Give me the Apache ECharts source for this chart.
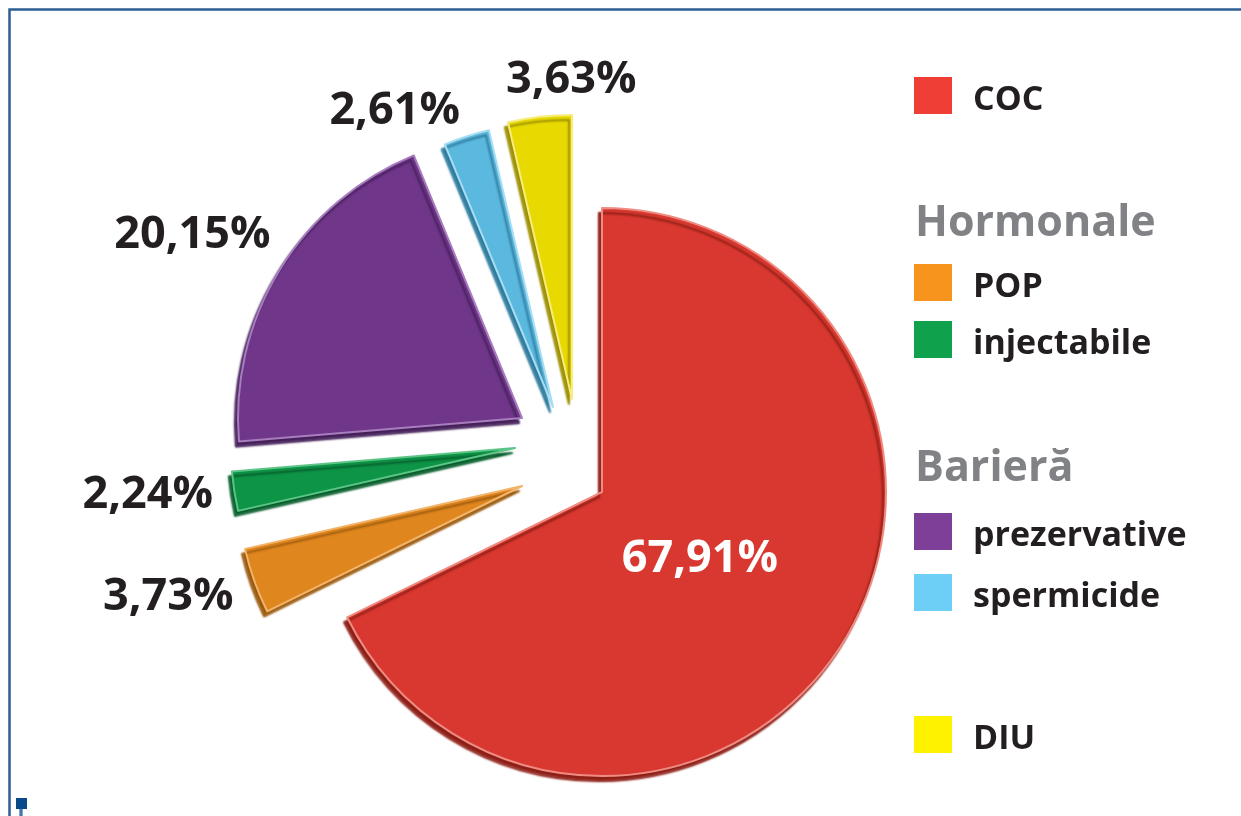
<!DOCTYPE html>
<html>
<head>
<meta charset="utf-8">
<script src="https://cdn.jsdelivr.net/npm/echarts@6/dist/echarts.min.js"></script>
<style>
  html, body { margin: 0; padding: 0; background: #ffffff; }
  #chart { width: 1241px; height: 816px; }
</style>
</head>
<body>
<div id="chart"></div>
<script>
// ---- data ----
const categories = ['COC', 'POP', 'injectabile', 'prezervative', 'spermicide', 'DIU'];
const values = [67.91, 3.73, 2.24, 20.15, 2.61, 3.63];
const groupTitles = ['Hormonale', 'Barieră'];
const legendGroups = [[0], [1, 2], [3, 4], [5]];

// ---- styles / layout ----
const sliceColors  = ['#D8382F', '#E0861E', '#0E9447', '#70368A', '#5BB8DE', '#E8DA00'];
const rimColors    = ['#EE8B82', '#F2B46A', '#5CC486', '#A77DBE', '#A6DDF3', '#F6EC80'];
const shadeColors  = ['#8E1F17', '#9A5A0E', '#075F2C', '#45205A', '#2F7C9E', '#9C8F00'];
const legendColors = ['#EF3E36', '#F7941D', '#0FA14B', '#7E3F98', '#6DCFF6', '#FFF200'];
// explosion: each slice drawn from its own pie centre (tip of the wedge)
const sliceCenters = [[602, 492], [522, 486], [515, 448], [522, 418], [553, 407], [572, 399]];
// label placement via library label-line geometry (line itself hidden)
const labelLen  = [-157, 48.5, 23, 67, 26.7, 37];
const labelLen2 = [-88, -25, -1.5, -48, -1.5, -101];
const legendTops = [77, 264, 513, 716];
const legendGaps = [17, 17, 21, 17];
const FONT = "'Open Sans', 'Noto Sans', sans-serif";

function fmt(v) { return v.toFixed(2).replace('.', ',') + '%'; }

const series = categories.map(function (_, i) {
  return {
    type: 'pie',
    center: sliceCenters[i],
    radius: 284,
    startAngle: 90,
    clockwise: true,
    silent: true,
    animation: false,
    avoidLabelOverlap: false,
    emphasis: { disabled: true },
    label: {
      position: 'outside',
      distanceToLabelLine: 0,
      fontFamily: FONT,
      fontWeight: 'bold',
      fontSize: 45,
      color: i === 0 ? '#FFFFFF' : '#231F20',
      formatter: function (p) { return fmt(p.value); }
    },
    labelLine: { show: false, length: labelLen[i], length2: labelLen2[i] },
    data: categories.map(function (name, j) {
      const own = j === i;
      return {
        name: name,
        value: values[j],
        itemStyle: own ? {
          color: sliceColors[j],
          borderColor: rimColors[j],
          borderWidth: 2,
          shadowColor: shadeColors[j],
          shadowBlur: 2,
          shadowOffsetX: -3,
          shadowOffsetY: 5
        } : { color: 'rgba(0,0,0,0)', borderWidth: 0 },
        label: { show: own },
        labelLine: { show: false }
      };
    })
  };
});

const legendFont = { fontFamily: FONT, fontWeight: 'bold', fontSize: 34, color: '#231F20' };
const legendText = Object.assign({}, legendFont, {
  padding: [9, 0, 0, 16],
  rich: { t: legendFont }
});
const legends = legendGroups.map(function (g, k) {
  return {
    data: g.map(function (i) {
      return {
        name: categories[i],
        itemStyle: { color: legendColors[i], opacity: 1, borderWidth: 0, shadowBlur: 0, shadowOffsetX: 0, shadowOffsetY: 0 }
      };
    }),
    formatter: function (name) { return '{t|' + name + '}'; },
    orient: 'vertical',
    left: 914,
    top: legendTops[k],
    padding: 0,
    icon: 'rect',
    itemWidth: 38,
    itemHeight: 37,
    itemGap: legendGaps[k],
    selectedMode: false,
    textStyle: legendText
  };
});

const chart = echarts.init(document.getElementById('chart'), null, { renderer: 'canvas' });
chart.setOption({
  backgroundColor: '#ffffff',
  animation: false,
  legend: legends,
  series: series,
  graphic: [
    { type: 'text', left: 915, top: 202, style: { text: groupTitles[0], fill: '#808285', font: "bold 43px " + FONT } },
    { type: 'text', left: 915, top: 447, style: { text: groupTitles[1], fill: '#808285', font: "bold 43px " + FONT } },
    { type: 'polyline', shape: { points: [[9.5, 816], [9.5, 9.5], [1241, 9.5]] }, style: { stroke: '#2B5E94', lineWidth: 2.5, fill: null } },
    { type: 'rect', shape: { x: 16, y: 798, width: 11, height: 11 }, style: { fill: '#0A4A8A' } },
    { type: 'rect', shape: { x: 19, y: 809, width: 4, height: 7 }, style: { fill: '#7FA3CC' } },
    { type: 'rect', shape: { x: 20.5, y: 809, width: 1, height: 7 }, style: { fill: '#0A4A8A' } }
  ]
});
</script>
</body>
</html>
